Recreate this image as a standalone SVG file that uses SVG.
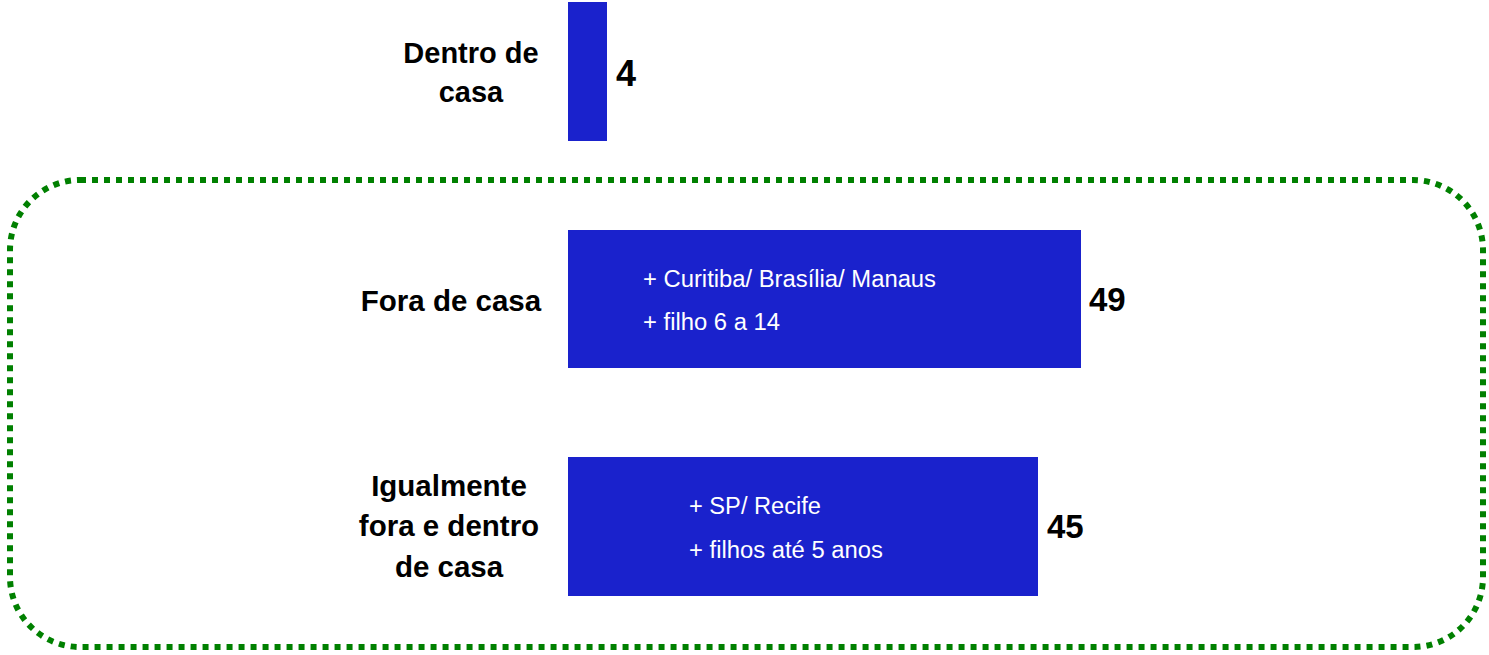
<svg xmlns="http://www.w3.org/2000/svg" width="1489" height="655" viewBox="0 0 1489 655">
<style>
.bar{fill:#1a22cc}
.lbl{font-family:"Liberation Sans",Arial,sans-serif;font-weight:bold;fill:#000;text-anchor:middle}
.num{font-family:"Liberation Sans",Arial,sans-serif;font-weight:bold;fill:#000}
.in{font-family:"Liberation Sans",Arial,sans-serif;font-size:23px;fill:#fff}
</style>
<rect width="1489" height="655" fill="#fff"/>
<g id="connectors">
<rect id="group-box" x="10" y="180" width="1473" height="467" rx="70" ry="70" fill="none" stroke="#008000" stroke-width="6" stroke-dasharray="6 6"/>
</g>
<g id="dentro">
<rect class="bar" x="568" y="2" width="39" height="139"/>
<text class="lbl" font-size="29" x="471" y="63">Dentro de</text>
<text class="lbl" font-size="29" x="471" y="102">casa</text>
<text class="num" font-size="36" x="616" y="86">4</text>
</g>
<g id="fora">
<rect class="bar" x="568" y="230" width="513" height="138"/>
<text class="lbl" font-size="29.5" x="451" y="311">Fora de casa</text>
<text class="in" x="643" y="287" textLength="293" lengthAdjust="spacingAndGlyphs">+ Curitiba/ Brasília/ Manaus</text>
<text class="in" x="643" y="330" textLength="137" lengthAdjust="spacingAndGlyphs">+ filho 6 a 14</text>
<text class="num" font-size="33" x="1089" y="311">49</text>
</g>
<g id="igualmente">
<rect class="bar" x="568" y="457" width="470" height="139"/>
<text class="lbl" font-size="29.5" x="449" y="496">Igualmente</text>
<text class="lbl" font-size="29.5" x="449" y="536">fora e dentro</text>
<text class="lbl" font-size="29.5" x="449" y="577">de casa</text>
<text class="in" x="689" y="514" textLength="132" lengthAdjust="spacingAndGlyphs">+ SP/ Recife</text>
<text class="in" x="689" y="558" textLength="194" lengthAdjust="spacingAndGlyphs">+ filhos até 5 anos</text>
<text class="num" font-size="33" x="1047" y="538">45</text>
</g>
</svg>
